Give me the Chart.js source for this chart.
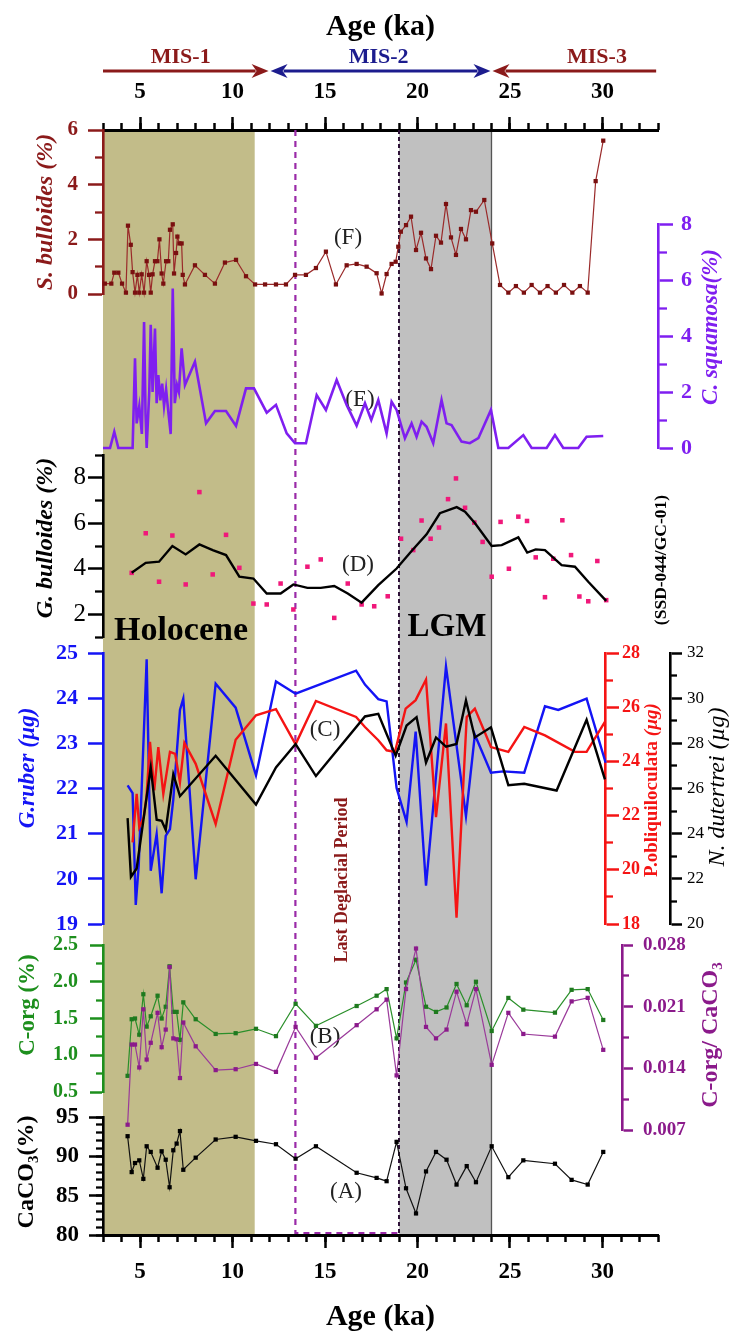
<!DOCTYPE html>
<html><head><meta charset="utf-8">
<script src="https://cdn.jsdelivr.net/npm/chart.js@4.4.0/dist/chart.umd.min.js"></script>
<style>
html,body{margin:0;padding:0;background:#fff;}
#wrap{position:relative;width:729px;height:1338px;overflow:hidden;background:#fff;}
#wrap canvas{position:absolute;left:0;top:0;}
</style></head><body><div id="wrap"></div>
<script>
// ---------------- DATA ----------------
// x ticks (Age, ka)
const AGE_TICKS = [5,10,15,20,25,30];
// (F) S. bulloides (%)
const sbAge = [3.1,3.45,3.61,3.83,4.03,4.24,4.35,4.5,4.6,4.73,4.86,4.96,5.09,5.22,5.36,5.49,5.58,5.68,5.81,5.94,6.05,6.17,6.26,6.41,6.53,6.62,6.77,6.84,6.95,7.02,7.13,7.25,7.31,7.43,7.97,8.51,9.05,9.59,10.19,10.73,11.22,11.76,12.35,12.89,13.38,13.97,14.51,15.05,15.59,16.17,16.71,17.25,17.79,18.06,18.33,18.6,18.82,18.96,19.1,19.38,19.65,19.92,20.19,20.46,20.73,21.0,21.27,21.54,21.81,22.08,22.35,22.62,22.89,23.16,23.61,24.04,24.46,24.91,25.32,25.75,26.17,26.62,27.03,27.48,27.92,28.37,28.78,29.2,29.63,30.04];
const sbVal = [0.38,0.38,0.78,0.78,0.38,0.05,2.5,1.8,0.8,0.05,0.7,0.05,0.72,0.05,1.2,0.7,0.05,0.72,1.2,1.2,2.0,0.75,0.38,1.2,1.2,2.35,2.55,0.75,1.5,2.1,1.85,1.85,0.7,0.35,1.05,0.7,0.38,1.15,1.25,0.65,0.35,0.35,0.35,0.35,0.7,0.7,0.95,1.55,0.35,1.05,1.1,1.0,0.76,0.02,0.73,1.1,1.18,1.73,2.28,2.52,2.83,1.61,2.24,1.3,0.91,2.13,1.88,3.29,2.07,1.43,2.38,2.0,3.07,3.01,3.44,1.85,0.33,0.05,0.29,0.05,0.33,0.05,0.29,0.05,0.33,0.05,0.29,0.05,4.13,5.61];
const SB_TICKS = [0,2,4,6], SB_MINOR = [1,3,5];
// (E) C. squamosa (%)
const csAge = [3.0,3.38,3.61,3.83,4.6,4.73,4.82,4.96,5.1,5.22,5.3,5.36,5.5,5.58,5.68,5.81,5.9,5.99,6.1,6.2,6.3,6.41,6.53,6.66,6.77,6.88,7.0,7.1,7.25,7.43,7.97,8.57,9.05,9.65,10.19,10.73,11.16,11.85,12.35,12.93,13.38,13.97,14.55,15.05,15.63,16.17,16.71,17.16,17.5,17.88,18.33,18.6,18.87,19.32,19.68,19.95,20.22,20.49,20.85,21.3,21.57,21.84,22.38,22.83,23.29,23.97,24.37,24.91,25.72,26.17,26.98,27.43,27.88,28.69,29.14,30.04];
const csVal = [0,0,0.58,0,0,3.2,0.88,1.5,0.5,4.5,1.2,0,2.0,4.4,2.0,4.27,1.6,2.6,1.7,2.3,1.5,2.1,1.3,0.5,5.7,1.6,2.25,2.0,3.56,2.25,3.08,0.88,1.32,1.32,0.79,2.13,2.13,1.26,1.54,0.52,0.17,0.17,1.89,1.36,2.43,1.54,0.8,1.6,1.0,1.71,0.52,1.65,1.36,0.35,0.88,0.4,0.94,0.76,0.17,1.71,0.88,0.82,0.23,0.17,0.35,1.36,0,0,0.46,0,0,0.46,0,0,0.4,0.43];
const CS_TICKS = [0,2,4,6,8], CS_MINOR = [1,3,5,7];
// (D) G. bulloides (%) : samples and smoothed curve
const gbAge = [4.55,5.31,6.03,6.75,7.47,8.21,8.93,9.65,10.37,11.13,11.85,12.6,13.29,14.05,14.77,15.5,16.23,16.98,17.66,18.39,19.11,19.77,20.22,20.71,21.16,21.65,22.08,22.57,23.07,23.52,24.01,24.49,24.94,25.45,25.92,26.39,26.89,27.34,27.83,28.3,28.75,29.23,29.72,30.2];
const gbVal = [3.82,5.56,3.43,5.46,3.31,7.37,3.75,5.49,4.04,2.47,2.43,3.35,2.21,4.09,4.41,1.84,3.35,2.43,2.35,2.79,5.32,4.82,6.12,5.32,5.81,7.06,7.97,6.68,6.03,5.18,3.65,6.06,4.0,6.29,6.1,4.5,2.75,4.44,6.13,4.6,2.78,2.57,4.34,2.62];
const gbSmAge = [4.55,5.31,6.03,6.75,7.47,8.21,8.93,9.65,10.37,11.13,11.85,12.6,13.29,14.05,14.77,15.5,16.23,16.98,17.88,18.87,19.68,20.49,21.21,22.12,22.57,23.11,24.01,24.55,25.45,25.93,26.39,26.89,27.79,28.51,29.23,30.2];
const gbSmVal = [3.82,4.26,4.31,5.0,4.63,5.07,4.82,4.6,3.65,3.57,2.91,2.91,3.31,3.16,3.16,3.24,2.91,2.51,3.28,4.01,4.78,5.51,6.44,6.71,6.51,6.0,5.0,5.04,5.38,4.71,4.85,4.82,4.16,4.09,3.43,2.59];
const GB_TICKS = [2,4,6,8], GB_MINOR = [1,3,5,7,9];
// (C) G. ruber, P. obliquiloculata, N. dutertrei (µg)
const grAge = [4.33,4.6,4.77,4.93,5.36,5.58,5.9,6.17,6.39,6.62,6.8,7.16,7.34,8.01,9.09,10.17,11.27,12.35,13.41,16.68,17.16,17.88,18.33,18.87,19.41,19.9,20.46,21.54,22.62,23.1,23.97,24.64,25.77,26.89,27.61,29.14,30.17];
const grVal = [22.07,21.9,19.42,20.29,24.86,20.18,20.99,19.68,20.95,21.1,21.76,23.74,23.99,19.99,24.32,23.79,22.29,24.37,24.1,24.61,24.3,23.98,23.93,22.01,21.26,23.26,19.85,24.7,21.39,23.19,22.35,22.38,22.35,23.82,23.74,23.99,22.57];
const poAge = [4.6,4.82,4.96,5.2,5.35,5.54,5.77,5.99,6.26,6.62,6.9,7.16,7.4,8.01,9.09,10.17,11.27,12.35,13.41,14.51,16.68,17.16,17.88,18.33,18.78,19.36,19.9,20.46,21.0,21.54,22.11,22.66,23.1,23.97,24.91,25.77,26.89,28.51,29.14,30.13];
const poVal = [21.01,22.8,21.57,21.94,22.68,24.72,22.93,24.53,22.8,24.35,24.28,23.23,24.68,23.91,21.69,24.8,25.7,25.93,24.63,26.23,25.64,25.27,24.78,24.41,24.35,25.95,26.26,27.02,21.94,25.4,18.23,25.64,25.95,24.53,24.35,25.27,24.96,24.35,24.35,25.46];
const ndAge = [4.33,4.51,4.82,5.58,5.9,6.17,6.39,6.8,7.16,9.09,11.27,12.35,13.41,14.51,17.16,17.88,18.33,18.82,19.41,19.95,20.46,21.0,21.54,22.11,22.62,23.1,23.97,24.91,25.77,27.52,29.14,30.13];
const ndVal = [24.69,22.09,22.46,26.93,24.62,24.57,24.17,26.63,25.66,27.45,25.29,26.93,27.97,26.55,29.19,29.31,28.41,27.45,28.79,29.16,27.15,28.26,27.85,27.97,29.9,28.26,28.71,26.15,26.21,25.91,29.04,26.4];
const GR_TICKS = [19,20,21,22,23,24,25];
const PO_TICKS = [18,20,22,24,26,28], PO_MINOR = [19,21,23,25,27];
const ND_TICKS = [20,22,24,26,28,30,32], ND_MINOR = [21,23,25,27,29,31];
// (B) C-org (%), C-org/CaCO3 and (A) CaCO3 (%)
const coreAge = [4.33,4.55,4.73,4.96,5.18,5.36,5.58,5.95,6.17,6.39,6.6,6.8,6.98,7.16,7.34,8.01,9.09,10.17,11.27,12.35,13.41,14.51,16.71,17.79,18.33,18.87,19.38,19.92,20.46,21.0,21.57,22.11,22.66,23.16,24.01,24.91,25.72,27.43,28.33,29.2,30.04];
const corgVal = [0.72,1.49,1.5,1.28,1.83,1.39,1.53,1.81,1.5,1.66,2.21,1.59,1.59,1.21,1.72,1.49,1.29,1.3,1.36,1.26,1.7,1.4,1.67,1.81,1.9,1.23,1.99,2.3,1.66,1.59,1.65,1.97,1.68,2.0,1.33,1.78,1.62,1.58,1.89,1.9,1.48];
const ratioVal = [0.0076,0.0167,0.0167,0.0141,0.0207,0.0150,0.0169,0.0203,0.0164,0.0184,0.0255,0.0174,0.0173,0.0129,0.0192,0.0165,0.0138,0.0139,0.0145,0.0136,0.0187,0.0152,0.0189,0.0207,0.0218,0.0132,0.0230,0.0276,0.0187,0.0174,0.0184,0.0227,0.0190,0.0230,0.0144,0.0203,0.0179,0.0176,0.0216,0.0220,0.0161];
const caco3Val = [92.56,88.0,89.15,89.49,87.14,91.28,90.56,88.55,90.64,89.57,86.07,90.77,91.62,93.21,88.29,89.83,92.14,92.48,91.97,91.54,89.7,91.28,87.91,87.26,86.84,91.84,85.94,82.74,88.08,90.56,89.57,86.41,88.76,86.71,91.28,87.35,89.49,89.06,87.01,86.41,90.56];
const CORG_TICKS = [0.5,1.0,1.5,2.0,2.5], CORG_MINOR = [0.75,1.25,1.75,2.25];
const RATIO_TICKS = [0.007,0.014,0.021,0.028], RATIO_MINOR = [0.0105,0.0175,0.0245];
const CACO3_TICKS = [80,85,90,95], CACO3_MINOR = [80,81,82,83,84,85,86,87,88,89,90,91,92,93,94,95];
// annotation periods (ka)
const HOLOCENE = [3, 11.2], LGM_SPAN = [19, 24], DEGLACIAL = [13.4, 19];
const MIS_LABELS = ['MIS-1','MIS-2','MIS-3'];
const MIS_BOUNDS = [3, 11.95, 24, 32.9];
const MIS_LABEL_AT = [7.2, 17.9, 29.7];

// ---------------- LAYOUT ----------------
const W = 729, H = 1338, X0 = 3, X1 = 33, LEFT = 103, RIGHT = 658;
const PXK = (RIGHT - LEFT) / (X1 - X0);
const FONT = '"Liberation Serif","Times New Roman",serif';
const DRED = '#8b1a1a', NAVY = '#1c1c8e', VIOLET = '#7f1ff0', PINK = '#f0187a',
      BLUE = '#1414f5', RED = '#f51414', GREEN = '#2a8f2a', GREENL = '#1d8f1d',
      PURP = '#8b1a8b', OLIVE = '#c2bc89', GREY = '#c0c0c0';
Chart.defaults.font.family = FONT;
Chart.defaults.color = '#000';

function fnt(size, weight, style){ return {family: FONT, size, weight: weight||'normal', style: style||'normal'}; }
function cf(size, weight, style){ return (style||'normal') + ' ' + (weight||'normal') + ' ' + size + 'px ' + FONT; }
function pts(xs, ys){ return xs.map((x,i) => ({x: x, y: ys[i]})); }
function mkCanvas(){
  const c = document.createElement('canvas');
  c.width = W; c.height = H; c.style.width = W+'px'; c.style.height = H+'px';
  document.getElementById('wrap').appendChild(c);
  return c;
}

function addY(scales, a){
  scales[a.id] = {
    type:'linear', position:a.pos, min:a.min, max:a.max, weight:a.w+1,
    afterBuildTicks: s => { s.ticks = a.ticks.map(v => ({value:v})); },
    afterFit: s => { s.width = a.width; },
    ticks:{color:a.color, font:a.font, padding:a.pad, autoSkip:false, callback: v => a.fmt ? a.fmt(v) : String(v)},
    grid:{drawOnChartArea:false, drawTicks:true, tickLength:a.tl, tickWidth:2.5, tickColor:a.color},
    border:{display:true, width:2.6, color:a.color}
  };
  if (a.minor) {
    scales[a.id+'m'] = {
      type:'linear', position:a.pos, min:a.min, max:a.max, weight:a.w,
      afterBuildTicks: s => { s.ticks = a.minor.map(v => ({value:v})); },
      afterFit: s => { s.width = 0; },
      ticks:{display:false},
      grid:{drawOnChartArea:false, drawTicks:true, tickLength:a.ml, tickWidth:2.3, tickColor:a.color},
      border:{display:false}
    };
  }
}

function titlePlugin(items){
  return { id:'axTitles', afterDraw(chart){
    const ctx = chart.ctx;
    items.forEach(it => {
      ctx.save();
      ctx.translate(it.x, it.y);
      ctx.rotate(-Math.PI/2);
      ctx.textBaseline = 'middle'; ctx.textAlign = 'left'; ctx.fillStyle = it.c;
      let total = 0;
      const ws = it.parts.map(p => { ctx.font = p.f; const w = ctx.measureText(p.t).width; total += w; return w; });
      let cx = -total/2;
      it.parts.forEach((p,i) => { ctx.font = p.f; ctx.fillText(p.t, cx, p.dy||0); cx += ws[i]; });
      ctx.restore();
    });
  }};
}

function panel(cfg){
  const scales = { x:{type:'linear', display:false, min:X0, max:X0 + (cfg.right-LEFT)/PXK} };
  let hasLeft = false, rightW = 0;
  cfg.axes.forEach(a => { addY(scales, a); if (a.pos === 'left') hasLeft = true; else rightW += a.width; });
  new Chart(mkCanvas(), {
    type:'line',
    data:{datasets:cfg.datasets},
    options:{
      responsive:false, animation:false, devicePixelRatio:1,
      layout:{padding:{top:cfg.top, bottom:H-cfg.bottom, left:hasLeft?0:LEFT, right:W-cfg.right-rightW}},
      plugins:{legend:{display:false}, tooltip:{enabled:false}},
      scales: scales
    },
    plugins:[titlePlugin(cfg.titles || [])]
  });
}

function ds(xs, ys, o){
  return {
    data: pts(xs, ys), yAxisID: o.axis || 'y',
    borderColor: o.line || o.color, borderWidth: o.bw, backgroundColor: o.color,
    showLine: o.showLine !== false,
    pointRadius: o.pr || 0, pointStyle:'rect', pointBackgroundColor: o.color,
    pointBorderColor: o.color, pointBorderWidth: 0, tension: 0, clip: false, fill: false
  };
}

// ---------------- FRAME (bands, age axes, annotations) ----------------
function arrowLine(ctx, x1, x2, y, color, headL, headR){
  const L = 17, h = 7;
  ctx.strokeStyle = color; ctx.fillStyle = color; ctx.lineWidth = 3;
  ctx.beginPath(); ctx.moveTo(headL ? x1+L-4 : x1, y); ctx.lineTo(headR ? x2-L+4 : x2, y); ctx.stroke();
  if (headR){ ctx.beginPath(); ctx.moveTo(x2,y); ctx.lineTo(x2-L,y-h); ctx.lineTo(x2-L+5,y); ctx.lineTo(x2-L,y+h); ctx.closePath(); ctx.fill(); }
  if (headL){ ctx.beginPath(); ctx.moveTo(x1,y); ctx.lineTo(x1+L,y-h); ctx.lineTo(x1+L-5,y); ctx.lineTo(x1+L,y+h); ctx.closePath(); ctx.fill(); }
}
function txt(ctx, s, x, y, font, color, rot){
  ctx.save(); ctx.translate(x, y); if (rot) ctx.rotate(rot);
  ctx.font = font; ctx.fillStyle = color; ctx.textAlign = 'center'; ctx.textBaseline = 'middle';
  ctx.fillText(s, 0, 0); ctx.restore();
}
const framePlugin = {
  id:'frame',
  beforeDraw(chart){
    const {ctx, chartArea:a} = chart; const sx = chart.scales.x; const px = v => sx.getPixelForValue(v);
    ctx.save();
    ctx.fillStyle = OLIVE; ctx.fillRect(px(HOLOCENE[0]), a.top, px(HOLOCENE[1]) - px(HOLOCENE[0]), a.bottom - a.top);
    ctx.fillStyle = GREY; ctx.fillRect(px(LGM_SPAN[0]), a.top, px(LGM_SPAN[1]) - px(LGM_SPAN[0]), a.bottom - a.top);
    ctx.strokeStyle = '#555'; ctx.lineWidth = 1.3;
    ctx.beginPath(); ctx.moveTo(px(LGM_SPAN[1]), a.top); ctx.lineTo(px(LGM_SPAN[1]), a.bottom); ctx.stroke();
    ctx.restore();
  },
  afterDraw(chart){
    const {ctx, chartArea:a} = chart; const sx = chart.scales.x; const px = v => sx.getPixelForValue(v);
    ctx.save();
    // deglacial dashed box
    ctx.setLineDash([6,5]); ctx.lineWidth = 2.2; ctx.strokeStyle = '#9a2aa8';
    ctx.beginPath(); ctx.moveTo(px(DEGLACIAL[0]), a.top); ctx.lineTo(px(DEGLACIAL[0]), a.bottom - 2);
    ctx.lineTo(px(DEGLACIAL[1]), a.bottom - 2); ctx.stroke();
    ctx.setLineDash([4,3]); ctx.lineWidth = 2; ctx.strokeStyle = '#2e1238';
    ctx.beginPath(); ctx.moveTo(px(DEGLACIAL[1]), a.top); ctx.lineTo(px(DEGLACIAL[1]), a.bottom); ctx.stroke();
    ctx.setLineDash([]);
    // MIS arrows
    const misCol = [DRED, NAVY, DRED];
    arrowLine(ctx, px(MIS_BOUNDS[0]), px(MIS_BOUNDS[1]), 71, misCol[0], false, true);
    arrowLine(ctx, px(MIS_BOUNDS[1]) + 2, px(MIS_BOUNDS[2]) - 1, 71, misCol[1], true, true);
    arrowLine(ctx, px(MIS_BOUNDS[2]) + 1, px(MIS_BOUNDS[3]), 71, misCol[2], true, false);
    MIS_LABELS.forEach((l,i) => txt(ctx, l, px(MIS_LABEL_AT[i]), 57, cf(22,'bold'), misCol[i]));
    // period labels
    txt(ctx, 'Holocene', 181, 631, cf(34,'bold'), '#000');
    txt(ctx, 'LGM', 447, 627, cf(33,'bold'), '#000');
    txt(ctx, 'Last Deglacial Period', 342, 880, cf(18,'bold'), DRED, -Math.PI/2);
    txt(ctx, '(SSD-044/GC-01)', 661, 560, cf(17.5,'bold'), '#000', -Math.PI/2);
    // panel letters
    const f = cf(23);
    txt(ctx, '(F)', 348, 238, f, '#222'); txt(ctx, '(E)', 360, 400, f, '#222');
    txt(ctx, '(D)', 358, 565, f, '#222'); txt(ctx, '(C)', 325, 730, f, '#222');
    txt(ctx, '(B)', 325, 1037, f, '#222'); txt(ctx, '(A)', 346, 1192, f, '#222');
    ctx.restore();
  }
};

const MINOR_AGE = []; for (let v = X0; v <= X1; v++) MINOR_AGE.push(v);
function xAxis(pos, weight, height, major){
  const o = {
    type:'linear', position:pos, min:X0, max:X1, weight:weight,
    afterBuildTicks: s => { s.ticks = (major ? AGE_TICKS : MINOR_AGE).map(v => ({value:v})); },
    afterFit: s => { s.height = height; },
    ticks: major ? {color:'#000', font:fnt(23,'bold'), padding: pos==='top' ? 11 : 10, autoSkip:false, maxRotation:0, minRotation:0}
                 : {display:false},
    grid:{drawOnChartArea:false, drawTicks:true, tickLength: major ? 13 : 7, tickWidth:2.5, tickColor:'#000'},
    border: major ? {display:true, width:3, color:'#000'} : {display:false}
  };
  if (major) o.title = {display:true, text:'Age (ka)', color:'#000', font:fnt(30,'bold'),
                        padding: pos==='top' ? {top:9, bottom:0} : {top:0, bottom:3}};
  return o;
}
new Chart(mkCanvas(), {
  type:'line', data:{datasets:[]},
  options:{
    responsive:false, animation:false, devicePixelRatio:1,
    layout:{padding:{top:0, bottom:0, left:LEFT, right:W-RIGHT}},
    plugins:{legend:{display:false}, tooltip:{enabled:false}},
    scales:{
      y:{display:false, min:0, max:1},
      xTop: xAxis('top', 1, 130, true),
      xTopMinor: xAxis('top', 0, 0, false),
      x: xAxis('bottom', 1, H-1235, true),
      xMinor: xAxis('bottom', 0, 0, false)
    }
  },
  plugins:[framePlugin]
});

// ---------------- PANELS ----------------
// (F)
panel({ top:130, bottom:294, right:RIGHT,
  axes:[{id:'y', pos:'left', min:0, max:6, ticks:SB_TICKS, minor:SB_MINOR, color:DRED, width:LEFT, tl:15, ml:8, pad:10, font:fnt(21,'bold'), w:0}],
  datasets:[ds(sbAge, sbVal, {color:'#7a1010', line:'#9a2a2a', bw:1.2, pr:3})],
  titles:[{x:46, y:212, c:DRED, parts:[{t:'S. bulloides (%)', f:cf(24,'bold','italic')}]}]
});
// (E)
panel({ top:224, bottom:448, right:RIGHT,
  axes:[{id:'y', pos:'right', min:0, max:8, ticks:CS_TICKS, minor:CS_MINOR, color:VIOLET, width:W-RIGHT, tl:15, ml:9, pad:8, font:fnt(22,'bold'), w:0}],
  datasets:[ds(csAge, csVal, {color:VIOLET, bw:2.6})],
  titles:[{x:711, y:327, c:VIOLET, parts:[{t:'C. squamosa(%)', f:cf(23,'bold','italic')}]}]
});
// (D)
panel({ top:455, bottom:637, right:RIGHT,
  axes:[{id:'y', pos:'left', min:1, max:9, ticks:GB_TICKS, minor:GB_MINOR, color:'#000', width:LEFT, tl:15, ml:8, pad:2, font:fnt(25), w:0}],
  datasets:[
    ds(gbSmAge, gbSmVal, {color:'#000', bw:2.4}),
    ds(gbAge, gbVal, {color:PINK, bw:0, pr:3.2, showLine:false})
  ],
  titles:[{x:46, y:538, c:'#000', parts:[{t:'G. bulloides (%)', f:cf(24,'bold','italic')}]}]
});
// (C)
panel({ top:653, bottom:924, right:605,
  axes:[
    {id:'y', pos:'left', min:19, max:25, ticks:GR_TICKS, color:BLUE, width:LEFT, tl:15, pad:10, font:fnt(22,'bold'), w:0},
    {id:'yr', pos:'right', min:18, max:28, ticks:PO_TICKS, minor:PO_MINOR, color:RED, width:65, tl:14, ml:8, pad:3, font:fnt(18,'bold'), w:0},
    {id:'yk', pos:'right', min:20, max:32, ticks:ND_TICKS, minor:ND_MINOR, color:'#000', width:W-670, tl:12, ml:7, pad:5, font:fnt(17), w:2}
  ],
  datasets:[
    ds(ndAge, ndVal, {color:'#000', bw:2.4, axis:'yk'}),
    ds(poAge, poVal, {color:RED, bw:2.4, axis:'yr'}),
    ds(grAge, grVal, {color:BLUE, bw:2.4, axis:'y'})
  ],
  titles:[
    {x:28, y:768, c:BLUE, parts:[{t:'G.ruber (\u00b5g)', f:cf(23,'bold','italic')}]},
    {x:652, y:790, c:RED, parts:[{t:'P.obliquiloculata ', f:cf(19,'bold')},{t:'(\u00b5g)', f:cf(19,'bold','italic')}]},
    {x:718, y:787, c:'#000', parts:[{t:'N. dutertrei (\u00b5g)', f:cf(24,'normal','italic')}]}
  ]
});
// (B) C-org
panel({ top:945, bottom:1092, right:RIGHT,
  axes:[{id:'y', pos:'left', min:0.5, max:2.5, ticks:CORG_TICKS, minor:CORG_MINOR, color:GREENL, width:LEFT, tl:13, ml:7, pad:12, font:fnt(20,'bold'), w:0, fmt:v=>v.toFixed(1)}],
  datasets:[ds(coreAge, corgVal, {color:'#1f7a1f', line:GREEN, bw:1.2, pr:3})],
  titles:[{x:28, y:1005, c:GREENL, parts:[{t:'C-org (%)', f:cf(23,'bold')}]}]
});
// (B) C-org / CaCO3
panel({ top:945, bottom:1130, right:622,
  axes:[{id:'y', pos:'right', min:0.007, max:0.028, ticks:RATIO_TICKS, minor:RATIO_MINOR, color:PURP, width:W-622, tl:11, ml:7, pad:10, font:fnt(19,'bold'), w:0, fmt:v=>v.toFixed(3)}],
  datasets:[ds(coreAge, ratioVal, {color:PURP, line:'#9a3a9a', bw:1.2, pr:3})],
  titles:[{x:711, y:1035, c:PURP, parts:[{t:'C-org/ CaCO', f:cf(24,'bold')},{t:'3', f:cf(15,'bold'), dy:7}]}]
});
// (A) CaCO3
panel({ top:1117, bottom:1235, right:RIGHT,
  axes:[{id:'y', pos:'left', min:80, max:95, ticks:CACO3_TICKS, minor:CACO3_MINOR, color:'#000', width:LEFT, tl:14, ml:7, pad:10, font:fnt(23,'bold'), w:0}],
  datasets:[ds(coreAge, caco3Val, {color:'#000', line:'#111', bw:1.2, pr:3})],
  titles:[{x:27, y:1172, c:'#000', parts:[{t:'CaCO', f:cf(24,'bold')},{t:'3', f:cf(15,'bold'), dy:7},{t:'(%)', f:cf(24,'bold')}]}]
});
</script>
</body></html>
